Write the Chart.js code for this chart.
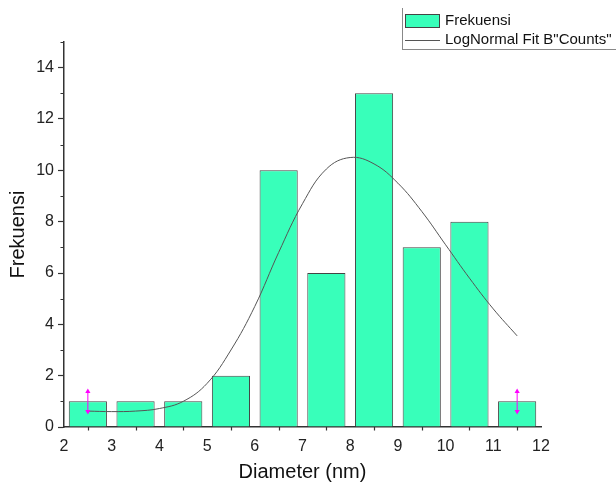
<!DOCTYPE html>
<html>
<head>
<meta charset="utf-8">
<script src="https://cdn.jsdelivr.net/npm/chart.js@4.4.1/dist/chart.umd.min.js"></script>
<style>
  html, body { margin: 0; padding: 0; background: #fff; }
  #wrap { position: relative; width: 616px; height: 486px; }
  #legend {
    position: absolute; left: 402px; top: 8px; width: 220px; height: 41px;
    border-left: 1px solid #888; border-bottom: 1px solid #888;
    font-family: "Liberation Sans", Arial, sans-serif; font-size: 15px; color: #111;
  }
  .row { position: absolute; left: 2px; height: 18px; line-height: 18px; white-space: nowrap; }
  .sw { display: inline-block; vertical-align: middle; width: 35px; margin-right: 5px; }
</style>
</head>
<body>
<div id="wrap">
  <canvas id="c" width="616" height="486"></canvas>
  <div id="legend"></div>
</div>
<script>
// histogram ukuran partikel + fit lognormal

const binCenters = [2.5, 3.5, 4.5, 5.5, 6.5, 7.5, 8.5, 9.5, 10.5, 11.5];
const frekuensi = [1, 1, 1, 2, 10, 6, 13, 7, 8, 1];

const fitX = [2.5, 3.0, 3.5, 4.0, 4.5, 5.0, 5.5, 6.0, 6.5, 7.0, 7.5, 8.0, 8.5, 9.0, 9.5, 10.0, 10.5, 11.0, 11.5];
const fitY = [0.62, 0.6, 0.62, 0.72, 1.0, 1.7, 3.0, 4.7, 6.8, 8.7, 10.05, 10.5, 10.25, 9.5, 8.4, 7.1, 5.8, 4.6, 3.55];

const markerX = [2.5, 11.5];
const markerLow = [0.6, 0.6];
const markerHigh = [1.38, 1.38];

const xTicks = [2, 3, 4, 5, 6, 7, 8, 9, 10, 11, 12];
const yTicks = [0, 2, 4, 6, 8, 10, 12, 14];

const barColor = '#38FFBA';
const font = "'Liberation Sans', Arial, sans-serif";

const minorTicks = {
    id: 'minorTicks',
    afterDraw(chart) {
        const ctx = chart.ctx;
        const xs = chart.scales.x, ys = chart.scales.y;
        ctx.save();
        ctx.strokeStyle = '#333';
        ctx.lineWidth = 1.2;
        ctx.beginPath();
        for (let i = 0; i < xTicks.length - 1; i++) {
            const px = Math.round(xs.getPixelForValue((xTicks[i] + xTicks[i + 1]) / 2)) + 0.5;
            ctx.moveTo(px, ys.bottom);
            ctx.lineTo(px, ys.bottom + 3.5);
        }
        for (let i = 0; i < yTicks.length; i++) {
            const v = yTicks[i] + 1;
            if (v > ys.max) continue;
            const py = Math.round(ys.getPixelForValue(v)) + 0.5;
            ctx.moveTo(xs.left, py);
            ctx.lineTo(xs.left - 3.5, py);
        }
        ctx.stroke();
        ctx.restore();
    }
};

const datasets = [
    {
        type: 'line',
        label: 'LogNormal Fit B"Counts"',
        data: fitX.map((x, i) => ({ x: x, y: fitY[i] })),
        borderColor: '#555',
        borderWidth: 1,
        pointRadius: 0,
        tension: 0.4,
        fill: false,
        order: 0
    },
    {
        type: 'bar',
        label: 'Frekuensi',
        data: binCenters.map((x, i) => ({ x: x, y: frekuensi[i] })),
        backgroundColor: barColor,
        borderColor: '#444',
        borderWidth: 1,
        barPercentage: 0.8,
        categoryPercentage: 1,
        order: 1
    }
];

markerX.forEach((x, i) => {
    datasets.push({
        type: 'line',
        label: 'marker',
        data: [{ x: x, y: markerLow[i] }, { x: x, y: markerHigh[i] }],
        borderColor: '#FF00FF',
        borderWidth: 1,
        pointStyle: 'triangle',
        pointRotation: [180, 0],
        pointRadius: 3,
        pointBackgroundColor: '#FF00FF',
        pointBorderColor: '#FF00FF',
        pointBorderWidth: 0,
        order: -1
    });
});

const chart = new Chart(document.getElementById('c'), {
    type: 'bar',
    data: { datasets: datasets },
    options: {
        responsive: false,
        animation: false,
        layout: { padding: { top: 42, right: 75, left: 6, bottom: 0 } },
        plugins: {
            legend: { display: false },
            tooltip: { enabled: false }
        },
        scales: {
            x: {
                type: 'linear',
                min: 2, max: 12,
                offset: false,
                border: { display: true, color: '#333', width: 1.5 },
                grid: { display: false, drawOnChartArea: false, drawTicks: true, tickLength: 6, tickColor: '#333', tickWidth: 1.2 },
                ticks: { stepSize: 1, color: '#222', font: { family: font, size: 16 }, padding: 4, maxRotation: 0 },
                afterBuildTicks: s => { s.ticks = xTicks.map(v => ({ value: v })); },
                afterFit: s => { s.height = 59; },
                title: { display: true, text: 'Diameter (nm)', color: '#111', font: { family: font, size: 20 }, padding: { top: 4, bottom: 2 } }
            },
            y: {
                min: 0, max: 15,
                border: { display: true, color: '#333', width: 1.5 },
                grid: { display: true, drawOnChartArea: false, drawTicks: true, tickLength: 6, tickColor: '#333', tickWidth: 1.2 },
                ticks: { color: '#222', font: { family: font, size: 16 }, padding: 4 },
                afterBuildTicks: s => { s.ticks = yTicks.map(v => ({ value: v })); },
                afterFit: s => { s.width = 58; },
                title: { display: true, text: 'Frekuensi', color: '#111', font: { family: font, size: 20 }, padding: { top: 0, bottom: 2 } }
            }
        }
    },
    plugins: [minorTicks]
});

// legend (HTML) dari dataset
const legend = document.getElementById('legend');
const entries = [
    { text: datasets[1].label, kind: 'box' },
    { text: datasets[0].label, kind: 'line' }
];
entries.forEach((e, i) => {
    const row = document.createElement('div');
    row.className = 'row';
    row.style.top = (i === 0 ? 3 : 22) + 'px';
    const sw = document.createElement('span');
    sw.className = 'sw';
    if (e.kind === 'box') {
        sw.style.height = '14px';
        sw.style.background = barColor;
        sw.style.border = '1px solid #444';
        sw.style.boxSizing = 'border-box';
    } else {
        sw.style.height = '1px';
        sw.style.background = '#555';
    }
    row.appendChild(sw);
    row.appendChild(document.createTextNode(e.text));
    legend.appendChild(row);
});
</script>
</body>
</html>
